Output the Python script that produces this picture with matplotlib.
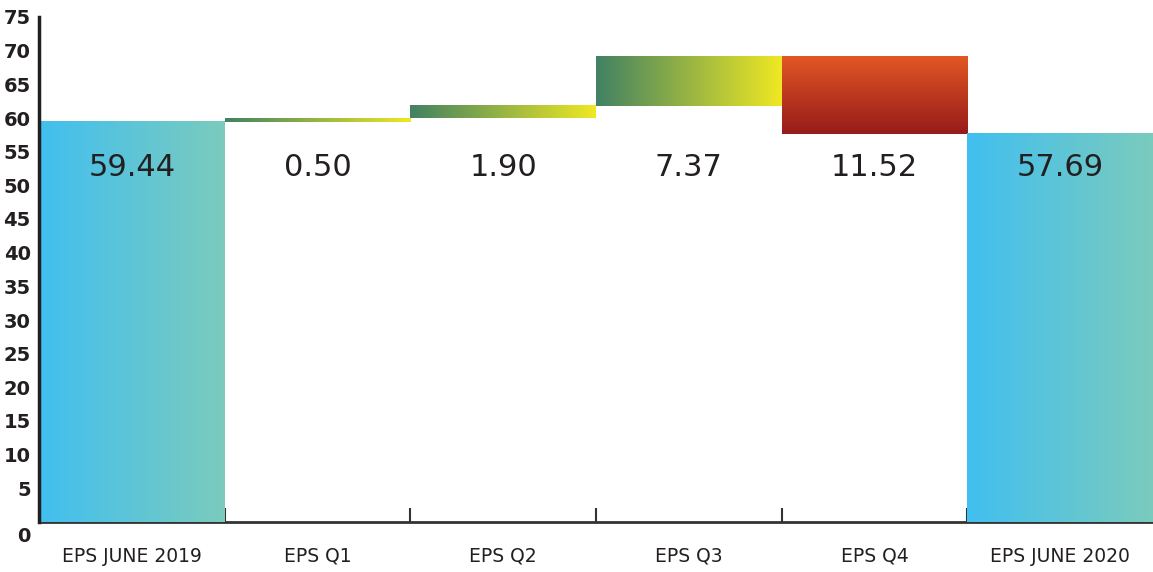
import numpy as np
import matplotlib
matplotlib.use('Agg')
import matplotlib.pyplot as plt
import matplotlib.transforms as mtransforms
from matplotlib.colors import LinearSegmentedColormap

categories = ['EPS JUNE 2019', 'EPS Q1', 'EPS Q2', 'EPS Q3', 'EPS Q4', 'EPS JUNE 2020']
changes = [59.44, 0.50, 1.90, 7.37, -11.52, 57.69]
kinds = ['total', 'up', 'up', 'up', 'down', 'total']
value_labels = ['59.44', '0.50', '1.90', '7.37', '11.52', '57.69']

cmap_total = LinearSegmentedColormap.from_list('total', ['#41BFF0', '#7BCBBD'])
cmap_up = LinearSegmentedColormap.from_list('up', ['#418163', '#EFE823'])
cmap_down = LinearSegmentedColormap.from_list('down', ['#961B1A', '#E25724'])

fig = plt.figure(figsize=(11.53, 5.72), dpi=100)
ax = fig.add_axes([39 / 1153, 50 / 572, 1 - 39 / 1153, 505 / 572])

grad = np.linspace(0, 1, 256)
running = 0.0
for i, (val, kind) in enumerate(zip(changes, kinds)):
    if kind == 'total':
        lo, hi = 0, val
        running = val
        img, cmap = grad[None, :], cmap_total
    elif kind == 'up':
        lo, hi = running, running + val
        running = hi
        img, cmap = grad[None, :], cmap_up
    else:
        lo, hi = running + val, running
        running = lo
        img, cmap = grad[:, None], cmap_down
    ax.imshow(img, extent=[i - 0.5, i + 0.5, lo, hi], origin='lower',
              aspect='auto', cmap=cmap, zorder=2, interpolation='bicubic')
    ax.text(i, 52.7, value_labels[i], ha='center', va='center',
            fontsize=22, color='#231F20', zorder=3)

ax.set_xlim(-0.5, len(categories) - 0.5)
ax.set_ylim(0, 75)

ax.set_xticks(range(len(categories)))
ax.set_xticklabels(categories, fontsize=13.5, color='#231F20')
ax.tick_params(axis='x', which='major', length=0, pad=18)
ax.set_xticks(np.arange(0.5, len(categories) - 1, 1.0), minor=True)
ax.tick_params(axis='x', which='minor', direction='in', length=10, width=1.5, color='#333333')

ax.set_yticks(range(0, 80, 5))
ax.set_yticklabels([str(v) for v in range(0, 80, 5)], fontsize=14,
                   fontweight='bold', color='#231F20')
ax.tick_params(axis='y', length=0, pad=6)
# the zero label sits a little below the axis line in the original
zero_lbl = ax.get_yticklabels()[0]
zero_lbl.set_transform(zero_lbl.get_transform() +
                       mtransforms.ScaledTranslation(0, -12 / 100, fig.dpi_scale_trans))

for s in ['top', 'right']:
    ax.spines[s].set_visible(False)
ax.spines['left'].set_linewidth(2.5)
ax.spines['left'].set_color('#231F20')
ax.spines['bottom'].set_linewidth(2)
ax.spines['bottom'].set_color('#333333')
ax.spines['bottom'].set_zorder(1)

fig.savefig('out.png', dpi=100)
